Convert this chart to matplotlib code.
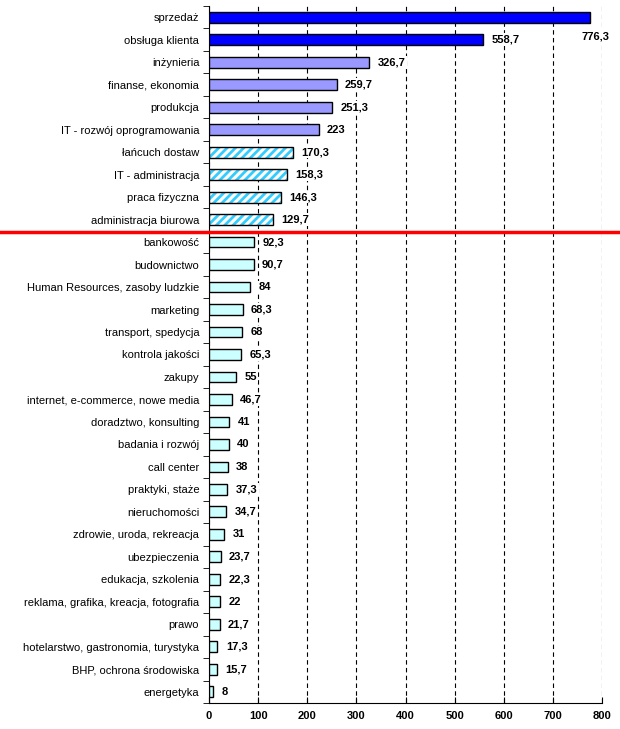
import matplotlib.pyplot as plt
import numpy as np

plt.rcParams['font.family'] = ['Liberation Sans', 'DejaVu Sans']
plt.rcParams['hatch.linewidth'] = 2.0

# Data
categories = ["sprzedaż", "obsługa klienta", "inżynieria", "finanse, ekonomia", "produkcja",
              "IT - rozwój oprogramowania", "łańcuch dostaw", "IT - administracja",
              "praca fizyczna", "administracja biurowa", "bankowość", "budownictwo",
              "Human Resources, zasoby ludzkie", "marketing", "transport, spedycja",
              "kontrola jakości", "zakupy", "internet, e-commerce, nowe media",
              "doradztwo, konsulting", "badania i rozwój", "call center", "praktyki, staże",
              "nieruchomości", "zdrowie, uroda, rekreacja", "ubezpieczenia",
              "edukacja, szkolenia", "reklama, grafika, kreacja, fotografia", "prawo",
              "hotelarstwo, gastronomia, turystyka", "BHP, ochrona środowiska", "energetyka"]
values = [776.3, 558.7, 326.7, 259.7, 251.3, 223, 170.3, 158.3, 146.3, 129.7,
          92.3, 90.7, 84, 68.3, 68, 65.3, 55, 46.7, 41, 40, 38, 37.3, 34.7, 31,
          23.7, 22.3, 22, 21.7, 17.3, 15.7, 8]
labels = ["776,3", "558,7", "326,7", "259,7", "251,3", "223", "170,3", "158,3", "146,3",
          "129,7", "92,3", "90,7", "84", "68,3", "68", "65,3", "55", "46,7", "41", "40",
          "38", "37,3", "34,7", "31", "23,7", "22,3", "22", "21,7", "17,3", "15,7", "8"]
# group: 0 dark blue, 1 purple, 2 hatched, 3 light cyan
groups = [0, 0, 1, 1, 1, 1, 2, 2, 2, 2] + [3] * 21

fig = plt.figure(figsize=(6.2, 7.29), dpi=100)
ax = fig.add_axes([209 / 620, 1 - 703 / 729, 393 / 620, 697 / 729])

y = np.arange(len(categories))
h = 0.48
fills = {0: "#0000FF", 1: "#9999FF", 3: "#CCFFFF"}
for i, (v, g) in enumerate(zip(values, groups)):
    if g == 2:
        ax.barh(y[i], v, height=h, color="white", edgecolor="#33CCFF", hatch="////",
                linewidth=0, zorder=3)
        ax.barh(y[i], v, height=h, fill=False, edgecolor="black", linewidth=1, zorder=4)
    else:
        ax.barh(y[i], v, height=h, color=fills[g], edgecolor="black", linewidth=1, zorder=3)

box = dict(facecolor="white", edgecolor="none", pad=1)
for i, (v, lab) in enumerate(zip(values, labels)):
    if i == 0:
        ax.annotate(lab, (v, y[i]), xytext=(4, -14), textcoords="offset points",
                    ha="center", va="center", fontsize=8, fontweight="bold",
                    bbox=box, zorder=6)
    else:
        ax.annotate(lab, (v, y[i]), xytext=(6, 0), textcoords="offset points",
                    ha="left", va="center", fontsize=8, fontweight="bold",
                    bbox=box, zorder=6)

ax.set_xlim(0, 800)
ax.set_ylim(len(categories) - 0.5, -0.5)
ax.set_xticks(np.arange(0, 801, 100))
ax.tick_params(axis="x", direction="in", length=4, labelsize=8, pad=6)
for t in ax.get_xticklabels():
    t.set_fontweight("bold")
ax.set_yticks(y)
ax.set_yticklabels(categories, fontsize=8)
ax.tick_params(axis="y", length=0, pad=7)
ax.set_yticks(np.arange(-0.5, len(categories), 1), minor=True)
ax.tick_params(axis="y", which="minor", length=4, direction="out")

ax.grid(axis="x", color="black", linestyle=(0, (4, 3)), linewidth=0.8, zorder=0)
ax.spines["top"].set_visible(False)
ax.spines["right"].set_visible(False)

# red separator line
ax.axhline(9.55, xmin=-209 / 393, xmax=411 / 393, color="red", linewidth=2.5,
           clip_on=False, zorder=7)

fig.savefig("out.png", dpi=100)
